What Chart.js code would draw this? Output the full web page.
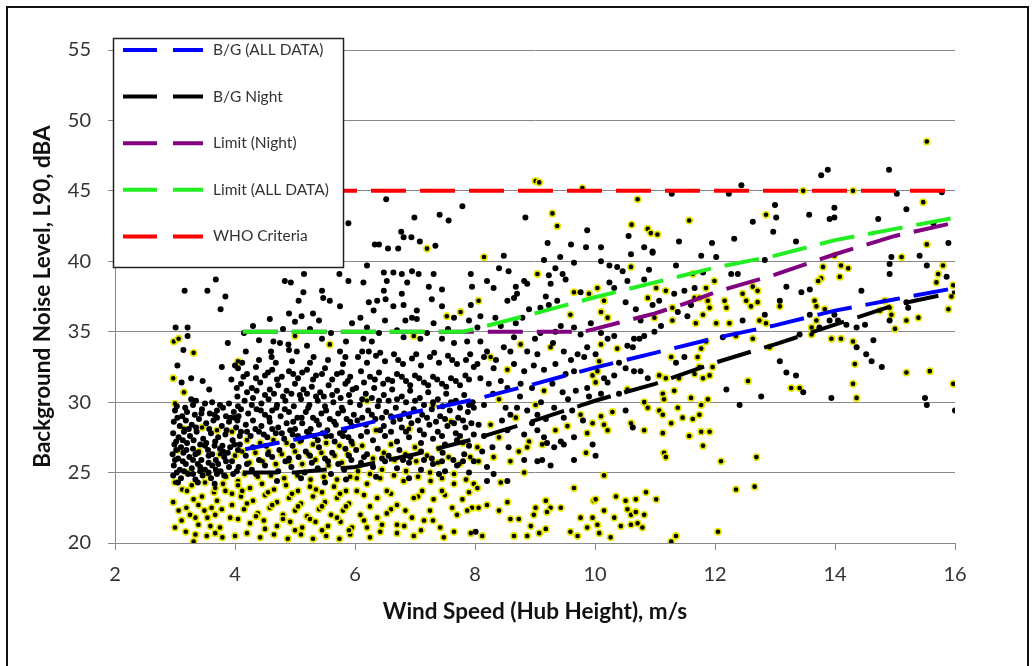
<!DOCTYPE html>
<html>
<head>
<meta charset="utf-8">
<title>Background noise vs wind speed</title>
<script src="https://cdn.jsdelivr.net/npm/chart.js@4.4.1/dist/chart.umd.min.js"></script>
<style>
body{margin:0;background:#fff}
#wrap{position:relative;width:1035px;height:666px;overflow:hidden}
#frame{position:absolute;left:6px;top:6px;width:1019px;height:700px;border:2px solid #111;pointer-events:none}
</style>
</head>
<body>
<div id="wrap">
<canvas id="chart" width="1035" height="666"></canvas>
<div id="frame"></div>
</div>
<script>

// axis ranges and ticks
const xTicks = [2, 4, 6, 8, 10, 12, 14, 16]
const yTicks = [20, 25, 30, 35, 40, 45, 50, 55]

// fitted / criteria lines, [wind speed, dBA]
const bgAll = [[4.17,26.65],[5,27.35],[6,28.3],[7,29.3],[8,30.2],[9,31.3],[10,32.45],[11,33.5],[12,34.55],[13,35.45],[14,36.5],[15,37.3],[16,38.1]]
const bgNight = [[4.13,25.0],[5,25.0],[6,25.4],[7,26.3],[8,27.4],[9,28.7],[10,30.1],[11,31.3],[12,32.8],[13,34.1],[14,35.5],[15,36.9],[16,37.8]]
const limitNight = [[4.13,35],[9.8,35],[10,35.2],[10.5,35.75],[11,36.3],[11.5,37.0],[12,37.8],[13,39.05],[14,40.5],[15,41.8],[16,42.75]]
const limitAll = [[4.13,35],[7.8,35],[8,35.2],[9,36.3],[10,37.45],[11,38.5],[12,39.55],[13,40.4],[14,41.5],[15,42.3],[16,43.1]]
const whoCriteria = [[3,45],[16,45]]

// measured points (black markers)
const ptsBlack = [
[3.68,38.7],[3.16,37.9],[3.54,37.9],[3.84,37.5],[3.76,36.6],[3.01,35.3],[3.21,35.3],[3.21,34.7],[3.14,33.7],[3.88,34.2],[3.04,32.6],[3.78,32.5],[3.27,31.7],[3.11,31.4],[3.46,31.5],[3.57,30.9],[3.27,30.2],[4.0,32.6],[3.94,31.6],[4.03,31.0],
[3.35,30.1],[3.5,29.9],[3.62,30.0],[3.75,29.8],[3.9,29.9],[4.05,29.7],[3.0,29.4],[3.12,29.0],[3.2,29.3],[3.33,29.1],[3.45,29.5],[3.58,29.2],[3.7,29.4],[3.85,29.0],[3.98,29.3],[2.98,28.6],[3.08,28.3],[3.18,28.7],[3.28,28.4],[3.4,28.8],[3.52,28.5],[3.64,28.7],[3.78,28.3],[3.9,28.6],[4.02,28.2],[2.97,27.8],[3.06,27.5],[3.15,27.9],[3.25,27.6],[3.36,27.9],[3.47,27.4],[3.6,27.8],[3.72,27.5],[3.84,27.7],[3.96,27.3],[4.08,27.6],[2.99,27.0],[3.1,26.8],[3.2,27.1],[3.3,26.7],[3.42,27.0],[3.55,26.6],[3.66,26.9],[3.8,26.5],[3.92,26.8],[4.05,26.6],[2.96,26.3],[3.05,26.0],[3.14,26.4],[3.24,26.1],[3.34,26.3],[3.44,25.9],[3.56,26.2],[3.68,25.9],[3.82,26.1],[3.95,25.8],[2.98,25.5],[3.08,25.2],[3.18,25.6],[3.28,25.3],[3.38,25.6],[3.5,25.2],[3.62,25.5],[3.76,25.1],[3.9,25.4],[4.03,25.1],[2.97,24.8],[3.1,24.6],[3.22,24.9],[3.34,24.5],[3.46,24.8],[3.6,24.6],[3.7,24.9],
[3.03,29.7],[3.17,29.6],[3.3,29.8],[3.44,29.2],[3.66,29.1],[3.8,29.6],[3.93,28.9],[3.04,28.9],[3.23,28.1],[3.35,28.2],[3.57,28.1],[3.7,28.9],[3.86,28.0],[4.0,28.9],[3.02,27.2],[3.13,27.3],[3.31,27.3],[3.52,27.1],[3.67,27.2],[3.79,26.9],[3.99,27.0],[3.02,26.6],[3.19,26.6],[3.38,26.4],[3.5,26.9],[3.62,26.3],[3.75,26.7],[3.88,26.4],[3.0,25.9],[3.13,25.8],[3.3,25.9],[3.42,25.4],[3.56,25.7],[3.72,25.6],[3.85,25.8],[3.03,25.0],[3.15,25.1],[3.3,24.9],[3.42,25.1],[3.56,25.0],[3.68,25.2],[3.82,24.8],[3.97,24.9],[3.05,24.3],[3.38,24.3],[3.66,24.2],
[5.15,39.1],[4.83,38.6],[4.93,38.5],[5.74,39.1],[5.89,38.6],[5.14,37.8],[5.06,37.2],[5.45,37.9],[5.47,37.4],[5.58,37.2],[5.75,36.8],[4.9,36.3],[5.3,36.3],[5.0,35.7],[4.58,35.9],[5.11,36.1],[5.95,35.6],[5.25,35.2],[4.64,34.3],[4.75,34.2],[4.89,34.1],[5.45,34.5],[5.31,33.2],[4.61,33.2],[4.18,33.6],[5.75,33.6],[5.84,33.2],[5.03,33.6],[4.9,33.7],
[4.05,32.4],[4.2,32.0],[4.35,32.5],[4.5,31.9],[4.62,32.3],[4.78,31.8],[4.9,32.2],[5.05,31.7],[5.2,32.3],[5.35,31.9],[5.5,32.4],[5.62,31.6],[5.78,32.1],[5.92,31.8],[4.1,31.3],[4.28,31.0],[4.42,31.4],[4.58,30.9],[4.72,31.2],[4.86,30.8],[5.0,31.3],[5.14,30.9],[5.28,31.1],[5.42,30.7],[5.56,31.2],[5.7,30.8],[5.84,31.3],[5.96,30.9],
[4.04,30.4],[4.16,30.1],[4.3,30.3],[4.44,29.9],[4.56,30.2],[4.7,29.8],[4.84,30.1],[4.98,29.7],[5.1,30.2],[5.24,29.8],[5.38,30.1],[5.5,29.7],[5.64,30.0],[5.78,29.6],[5.92,30.0],[4.1,29.5],[4.22,29.2],[4.36,29.5],[4.5,29.1],[4.62,29.4],[4.76,29.0],[4.9,29.3],[5.04,28.9],[5.18,29.3],[5.3,28.9],[5.44,29.2],[5.58,28.8],[5.72,29.2],[5.86,28.8],[5.98,29.1],[4.04,28.7],[4.18,28.4],[4.3,28.7],[4.44,28.3],[4.58,28.6],[4.72,28.2],[4.86,28.5],[5.0,28.1],[5.12,28.5],[5.26,28.1],[5.4,28.4],[5.54,28.0],[5.68,28.4],[5.82,28.0],[5.95,28.3],[4.1,27.9],[4.26,27.6],[4.4,27.9],[4.54,27.5],[4.68,27.8],[4.82,27.4],[4.96,27.7],[5.1,27.3],[5.24,27.7],[5.38,27.3],[5.52,27.6],[5.66,27.2],[5.8,27.6],[5.94,27.2],
[4.12,32.8],[4.4,33.0],[4.68,32.8],[4.95,32.9],[5.25,32.8],[5.55,33.0],[5.8,32.7],[4.14,31.8],[4.35,31.7],[4.55,32.1],[4.7,31.6],[4.97,32.0],[5.12,32.1],[5.3,31.6],[5.45,32.0],[5.7,32.0],[5.88,31.5],[4.2,30.7],[4.36,30.8],[4.5,30.5],[4.65,30.6],[4.8,30.4],[4.94,30.6],[5.08,30.5],[5.2,30.6],[5.35,30.4],[5.48,30.4],[5.62,30.5],[5.76,30.3],[5.9,30.5],[4.06,29.0],[4.28,29.8],[4.43,29.4],[4.57,28.9],[4.69,29.6],[4.83,29.5],[4.97,28.6],[5.11,28.9],[5.22,29.6],[5.36,28.7],[5.52,29.4],[5.65,28.6],[5.8,29.4],[5.92,28.6],[4.2,27.9],[4.34,28.1],[4.48,27.7],[4.62,28.1],[4.78,27.8],[4.92,28.0],[5.05,27.6],[5.2,27.9],[5.32,27.6],[5.46,27.8],[5.6,27.6],[5.75,27.8],[5.89,27.5],[4.6,33.6],[4.4,34.4],[5.2,34.0],[5.6,34.9],[5.85,34.3],[4.3,35.4],[4.8,35.2],[5.4,35.8],[4.15,34.9],
[4.08,27.0],[4.3,26.8],[4.52,26.9],[4.74,26.6],[4.96,26.9],[5.18,26.5],[5.4,26.8],[5.62,26.4],[5.84,26.7],[4.18,26.2],[4.4,25.9],[4.62,26.1],[4.84,25.8],[5.06,26.1],[5.28,25.7],[5.5,26.0],[5.72,25.6],[5.94,25.9],[4.06,25.4],[4.28,25.2],[4.5,25.5],[4.72,25.1],[4.94,25.4],[5.16,25.0],[5.38,25.3],[5.6,24.9],[5.82,25.2],
[4.2,25.6],[4.55,26.3],[4.9,26.0],[5.25,26.2],[5.55,25.8],[5.9,26.2],[6.15,26.1],[6.45,26.0],[6.8,25.9],[7.15,25.9],[7.45,25.8],[7.8,25.8],[4.35,24.9],[4.7,24.4],[5.1,24.6],[5.5,24.3],[5.85,24.5],[6.35,24.7],[6.9,24.6],[7.4,24.9],
[6.2,39.7],[6.48,39.2],[6.64,39.2],[6.78,39.1],[6.95,39.3],[7.06,39.1],[7.31,39.1],[6.14,38.5],[6.53,38.6],[6.87,38.5],[7.23,38.2],[7.45,38.0],[7.93,39.1],[7.95,38.2],[6.48,37.9],[6.78,37.7],[6.23,37.1],[6.37,37.2],[6.51,37.3],[6.64,36.8],[6.81,36.9],[7.28,37.3],[7.45,36.8],[7.93,36.9],[6.31,36.5],[7.03,36.5],[6.09,36.0],[6.5,35.8],[6.84,35.8],[7.03,35.9],[7.31,35.6],[7.65,36.0],[7.9,35.8],[6.14,34.5],[6.28,34.3],[6.81,34.6],[7.09,34.5],[7.45,34.5],[7.65,34.2],[7.87,34.3],[6.23,33.6],
[6.05,33.2],[6.2,32.8],[6.35,33.3],[6.5,32.9],[6.65,33.4],[6.8,32.7],[6.95,33.1],[7.1,32.6],[7.25,33.2],[7.4,32.8],[7.55,33.3],[7.7,32.7],[7.85,33.0],[7.98,32.5],[6.1,32.2],[6.25,31.8],[6.4,32.1],[6.55,31.6],[6.7,32.0],[6.85,31.5],[7.0,31.9],[7.15,31.4],[7.3,31.8],[7.45,31.3],[7.6,31.7],[7.75,31.2],[7.9,31.6],[6.02,31.0],[6.18,30.6],[6.32,31.0],[6.48,30.5],[6.62,30.9],[6.78,30.4],[6.92,30.8],[7.08,30.3],[7.22,30.7],[7.38,30.2],[7.52,30.6],[7.68,30.1],[7.82,30.5],[7.96,30.0],[6.08,29.8],[6.22,29.4],[6.38,29.7],[6.52,29.3],[6.68,29.6],[6.82,29.2],[6.98,29.5],[7.12,29.1],[7.28,29.5],[7.42,29.0],[7.58,29.4],[7.72,28.9],[7.88,29.3],[6.04,28.7],[6.18,28.4],[6.34,28.8],[6.48,28.3],[6.64,28.6],[6.78,28.2],[6.94,28.5],[7.08,28.0],[7.24,28.4],[7.38,27.9],[7.54,28.3],[7.68,27.8],[7.84,28.2],[7.98,27.7],[6.1,27.6],[6.3,27.3],[6.5,27.6],[6.7,27.2],[6.9,27.5],[7.1,27.1],[7.3,27.4],[7.5,27.0],[7.7,27.3],[7.9,26.9],
[6.12,33.6],[6.42,33.5],[6.72,33.0],[7.02,33.4],[7.32,33.5],[7.62,33.0],[7.92,33.4],[6.15,31.4],[6.33,31.6],[6.47,31.3],[6.62,31.5],[6.78,31.8],[6.92,31.2],[7.07,31.7],[7.22,31.2],[7.37,31.6],[7.52,31.1],[7.68,31.5],[7.84,31.9],[6.12,30.2],[6.28,30.3],[6.4,30.1],[6.56,30.1],[6.7,30.2],[6.85,30.0],[7.0,30.1],[7.15,29.8],[7.3,30.0],[7.46,29.7],[7.6,30.0],[7.75,29.6],[7.9,29.8],[6.12,28.9],[6.28,29.1],[6.45,28.9],[6.6,29.0],[6.75,28.8],[6.9,29.0],[7.05,28.7],[7.2,28.9],[7.35,28.6],[7.5,28.8],[7.65,28.5],[7.8,28.7],[7.94,28.5],[6.2,27.9],[6.42,28.0],[6.6,27.9],[6.85,27.9],[7.15,27.7],[7.45,27.6],[7.75,27.6],[6.4,34.9],[6.7,35.1],[7.2,34.9],[7.55,35.2],[6.95,36.0],[6.2,35.3],
[6.02,26.6],[6.2,26.3],[6.38,26.7],[6.56,26.2],[6.74,26.6],[6.92,26.1],[7.1,26.5],[7.28,26.0],[7.46,26.4],[7.64,25.9],[7.82,26.3],[7.98,25.8],[6.1,25.7],[6.3,25.4],[6.5,25.8],[6.7,25.3],[6.9,25.7],[7.1,25.2],[7.3,25.6],[7.5,25.1],[7.7,25.5],[7.9,25.0],
[5.89,42.7],[6.52,44.4],[6.99,43.1],[7.41,43.3],[6.77,42.1],[6.81,41.7],[6.94,41.7],[7.08,41.4],[6.33,41.2],[6.4,41.2],[6.55,40.9],[6.72,40.9],[7.34,41.1],
[7.79,43.9],[7.56,42.9],[8.84,43.1],[9.87,42.2],[11.4,41.4],[9.21,41.3],[9.6,41.2],[9.85,41.0],[10.1,41.0],[10.82,41.0],[10.96,40.7],[11.28,44.8],[10.56,41.8],
[8.48,40.4],[9.15,40.1],[9.42,40.3],[9.65,39.9],[8.4,39.5],[8.56,39.3],[9.34,39.5],[9.23,39.0],[9.46,39.1],[9.51,38.7],[8.2,38.6],[8.31,38.1],[8.68,38.2],[8.82,38.6],[8.87,38.4],[9.26,38.4],[9.76,37.8],[8.54,37.2],[8.65,37.4],[8.7,37.7],[9.18,37.5],[9.23,36.9],[9.37,37.2],[9.09,36.7],[8.9,36.6],[8.09,36.1],[8.34,36.0],[8.79,36.0],[9.93,35.6],[8.04,35.3],[8.43,35.4],[8.68,35.6],[9.09,34.9],[9.34,35.0],[9.43,35.4],[9.65,35.3],[9.76,34.8],[8.09,34.3],[8.2,33.6],[8.48,33.9],[8.59,33.6],[8.87,33.6],[9.04,33.4],[9.48,33.6],[9.71,33.4],[9.87,33.9],[9.82,33.2],[8.04,32.7],[8.31,32.4],[8.65,32.7],[8.82,32.2],[8.98,32.6],[9.34,32.7],[9.51,32.0],[9.65,32.2],[8.09,31.7],[8.23,31.3],[8.43,31.5],[8.54,31.0],[8.76,31.3],[8.95,31.0],[9.29,31.3],[9.46,30.7],[9.68,30.8],[9.87,31.0],[7.98,29.6],[8.15,29.8],[8.51,29.6],[8.59,29.1],[8.7,29.6],[8.87,29.4],[9.04,29.1],[9.18,28.8],[9.32,29.6],[9.48,28.9],[9.62,29.4],[8.06,28.4],[8.15,27.6],[8.54,28.0],[8.82,27.7],[9.04,28.0],[9.15,27.5],[9.43,27.2],[9.65,27.5],[8.12,26.5],[8.29,26.8],[8.56,26.8],[9.2,27.1],[9.32,26.8],[9.48,27.0],[9.65,25.9],[9.96,27.0],[8.2,25.4],[8.82,25.9],[9.04,25.8],[9.12,25.9],[9.26,25.5],[8.31,24.9],[8.2,24.4],[8.54,24.4],[8.01,20.8],
[8.3,30.6],[8.75,30.4],[9.1,30.0],[9.55,30.2],[9.9,30.4],[8.45,28.7],[8.95,28.5],[9.8,28.7],[8.35,33.0],[9.15,32.3],[9.6,33.0],[8.15,33.2],[8.65,34.6],[9.0,34.5],[9.3,34.2],
[10.6,40.5],[10.96,40.6],[10.1,40.0],[10.24,39.7],[10.37,39.6],[10.46,39.3],[10.9,39.4],[11.35,39.7],[10.24,38.5],[10.32,38.1],[10.54,38.6],[10.82,38.7],[11.32,37.7],[11.49,37.9],[11.66,38.1],[10.51,37.1],[10.96,36.9],[11.07,37.2],[11.38,36.4],[11.6,36.9],[10.68,36.6],[10.76,35.8],[11.1,35.4],[11.54,36.1],[10.1,34.9],[10.21,34.5],[10.32,34.7],[10.54,34.0],[10.65,34.5],[10.74,34.5],[10.82,34.7],[10.63,33.9],[10.99,35.0],[10.01,33.4],[10.4,32.8],[10.51,32.4],[11.35,32.8],[11.49,33.2],[10.15,31.7],[10.21,31.4],[10.32,31.9],[10.65,32.2],[10.76,32.2],[10.88,31.7],[10.1,30.6],[10.4,30.6],[10.51,29.4],[10.63,28.2],[10.01,26.2],
[13.88,46.5],[13.77,46.1],[14.9,46.5],[12.44,45.4],[12.23,44.8],[15.03,44.8],[15.78,44.9],[13.0,44.0],[13.02,43.1],[12.63,42.8],[13.57,43.3],[13.91,43.0],[13.99,43.1],[13.99,43.8],[15.19,43.7],[14.72,43.0],[12.97,42.1],[12.32,41.6],[11.95,41.3],[13.35,41.4],[15.64,42.7],[15.89,41.3],[11.77,40.4],[12.02,40.3],[12.83,40.1],[14.94,40.3],[15.41,40.4],[15.53,39.7],[14.91,39.8],[11.8,39.2],[12.27,39.1],[12.38,39.1],[14.91,39.1],[15.86,38.9],[12.83,36.2],[12.46,35.8],[13.08,37.2],[13.19,38.2],[13.44,37.8],[13.58,38.0],[13.58,36.2],[13.74,35.3],[13.91,35.8],[13.99,36.2],[14.05,35.8],[14.44,37.9],[14.91,35.8],[15.19,37.1],[15.22,36.7],[14.19,35.5],[14.5,35.5],[14.36,35.3],[13.41,34.8],[14.36,33.9],[14.52,33.4],[14.61,32.9],[14.78,32.5],[14.64,34.4],[12.13,34.6],[12.19,30.9],[12.77,30.4],[13.08,32.9],[13.19,32.1],[13.35,31.9],[13.47,30.7],[12.41,29.8],[13.94,30.3],[15.5,30.3],[15.53,29.8],[16.0,29.4]
]

// measured points (yellow markers)
const ptsYellow = [
[2.98,34.3],[3.06,34.5],[3.31,33.5],[2.97,31.7],[3.15,30.7],
[3.0,29.9],[3.15,28.1],[3.45,28.2],[3.7,28.0],[3.95,27.9],[3.05,26.6],[3.4,26.5],[3.75,26.3],[4.0,26.2],[3.2,25.0],[3.55,24.9],[3.85,24.7],[3.0,24.3],[3.28,24.1],[3.5,24.3],[3.8,24.2],[4.05,24.4],[3.12,23.8],[3.65,23.6],[3.95,23.5],
[3.31,23.1],[3.19,22.5],[3.06,22.3],[3.39,22.7],[3.49,22.3],[3.61,22.5],[3.7,23.0],[3.78,22.4],[3.11,21.6],[3.34,21.8],[3.54,21.8],[3.67,22.0],[3.0,21.1],[3.18,20.8],[3.39,21.3],[3.59,21.2],[3.75,21.1],[3.34,20.6],[3.53,20.5],[3.67,20.7],[3.79,20.4],[3.31,20.1],[4.0,20.5],[3.92,21.8],[3.95,22.7],[3.2,23.7],[3.84,23.7],[3.67,23.9],[3.45,23.3],[2.97,22.9],[3.25,22.0],
[5.0,34.7],[5.58,34.1],[4.05,32.9],
[4.2,27.3],[4.42,27.1],[4.64,27.3],[4.86,27.1],[5.08,27.2],[5.3,27.0],[5.52,27.1],[5.74,26.9],[5.96,27.0],[4.12,26.5],[4.34,26.4],[4.56,26.5],[4.78,26.3],[5.0,26.5],[5.22,26.3],[5.44,26.4],[5.66,26.2],[5.88,26.3],[4.24,25.7],[4.46,25.8],[4.68,25.6],[4.9,25.8],[5.12,25.6],[5.34,25.9],[5.56,25.5],[5.78,25.7],[4.16,24.9],[4.38,24.7],[4.6,24.8],[4.82,24.6],[5.04,24.8],[5.26,24.5],[5.48,24.7],[5.7,24.5],[5.92,24.7],
[4.05,24.1],[4.25,23.9],[4.45,24.2],[4.65,23.8],[4.85,24.1],[5.05,23.7],[5.25,24.0],[5.45,23.6],[5.65,24.0],[5.85,23.7],[4.1,23.3],[4.3,23.0],[4.5,23.4],[4.7,22.9],[4.9,23.2],[5.1,22.8],[5.3,23.3],[5.5,22.9],[5.7,23.2],[5.9,22.8],[4.15,22.4],[4.38,22.1],[4.58,22.5],[4.8,22.0],[5.0,22.3],[5.2,21.9],[5.4,22.4],[5.6,22.0],[5.8,22.3],[4.05,21.7],[4.25,21.4],[4.48,21.6],[4.7,21.2],[4.92,21.5],[5.12,21.1],[5.34,21.5],[5.55,21.2],[5.76,21.5],[5.95,21.1],[4.2,20.7],[4.42,20.4],[4.65,20.6],[4.88,20.3],[5.1,20.6],[5.3,20.3],[5.52,20.5],[5.74,20.3],[5.92,20.6],
[4.12,23.7],[4.55,23.6],[4.95,23.5],[5.35,23.8],[5.75,23.5],[6.15,23.4],[6.6,23.5],[7.05,23.3],[7.5,23.4],[7.9,23.6],[4.2,22.8],[4.62,22.7],[5.05,22.6],[5.45,22.6],[5.85,22.6],[6.25,22.6],[6.6,22.4],[7.25,22.3],[7.7,22.0],[4.35,21.9],[4.8,21.7],[5.25,21.7],[5.7,21.8],[6.15,21.6],[6.82,21.2],[7.3,21.6],[4.5,21.0],[5.0,20.9],[5.45,20.9],[5.9,20.9],[6.45,21.3],[7.1,20.9],
[7.53,36.1],[7.76,36.4],[6.98,34.7],
[6.12,26.9],[6.3,26.0],[6.48,26.4],[6.66,25.9],[6.84,26.3],[7.02,25.8],[7.2,26.2],[7.38,25.7],[7.56,26.1],[7.74,25.6],[7.92,26.1],[6.05,25.1],[6.25,24.9],[6.45,25.2],[6.65,24.8],[6.85,25.1],[7.05,24.7],[7.25,25.0],[7.45,24.6],[7.65,24.9],[7.85,24.5],[6.6,27.0],[7.0,26.8],[7.4,26.7],[7.8,27.1],[6.35,28.0],[6.9,28.1],[7.6,28.6],[6.2,30.1],[7.3,29.8],
[6.03,23.7],[6.2,24.2],[6.37,23.2],[6.53,23.7],[6.7,22.7],[6.84,22.3],[6.98,23.2],[7.12,23.7],[7.31,23.1],[7.45,23.7],[7.62,22.5],[7.79,23.1],[7.95,22.5],[6.09,22.0],[6.37,21.8],[6.53,22.1],[6.7,21.3],[6.95,21.8],[7.15,21.6],[7.42,21.1],[7.65,20.8],[7.87,22.3],[7.93,20.7],[6.2,21.1],[6.42,20.8],[6.7,20.7],[6.98,20.5],[6.25,20.4],[7.48,20.4],[7.65,24.2],[7.26,24.4],[6.81,24.4],[6.42,24.6],[6.03,24.6],[7.98,24.2],
[7.2,40.9],
[9.01,45.7],[9.07,45.6],[9.79,45.2],[10.71,44.4],[9.29,43.4],[9.37,42.5],[10.88,42.3],[10.93,42.0],[11.04,41.9],[11.57,42.9],[10.61,42.6],
[8.15,40.3],[9.04,39.1],[9.65,37.8],[9.9,37.7],[8.06,37.2],[9.59,36.2],[8.26,33.2],[8.76,34.1],[9.26,33.9],[8.54,32.3],[9.96,31.9],[9.15,30.8],[8.4,30.2],[8.68,28.9],[9.01,29.8],[9.76,29.1],[9.96,28.5],[8.26,28.4],[8.4,27.5],[8.9,27.2],[9.34,28.0],[9.54,28.3],[9.87,27.8],[8.04,26.8],[8.73,26.5],[8.87,26.8],[9.12,27.0],[9.85,26.4],[8.06,25.8],[8.31,26.1],[8.59,25.8],[8.43,24.3],[8.82,25.0],[9.65,23.9],[8.04,23.9],[8.2,22.7],[8.06,22.5],[8.4,22.3],[8.54,22.9],[9.01,22.5],[9.18,23.0],[9.26,22.5],[9.2,22.2],[9.43,22.5],[8.98,22.0],[8.59,21.7],[8.73,21.7],[8.93,21.2],[9.18,21.0],[9.07,20.7],[8.87,20.5],[8.65,20.5],[9.59,20.8],[9.71,20.5],[9.76,21.8],[9.87,21.1],[9.96,21.8],[9.98,23.0],[8.12,20.5],
[10.6,39.6],[11.63,39.1],[10.04,38.1],[11.02,38.1],[11.18,37.9],[10.15,37.2],[10.88,37.4],[11.29,36.7],[11.66,37.4],[10.1,36.4],[10.21,36.0],[10.99,36.0],[11.29,35.8],[11.68,35.6],[10.37,33.8],[10.1,34.1],[10.07,32.9],[11.27,33.2],[11.71,33.2],[10.04,32.2],[10.01,31.4],[11.07,31.9],[11.18,31.7],[11.4,31.7],[11.66,32.0],[10.54,30.9],[11.13,30.6],[11.15,30.2],[11.32,30.8],[11.6,30.3],[10.82,30.0],[10.88,29.6],[10.1,29.0],[10.29,29.3],[10.6,28.5],[11.07,29.4],[11.13,29.1],[11.38,29.6],[11.46,28.9],[11.63,28.8],[10.15,28.4],[10.21,28.0],[10.82,28.0],[11.13,27.8],[11.27,28.5],[11.57,27.6],[11.15,26.4],[11.18,26.1],[10.15,24.8],[10.01,23.1],[10.35,23.3],[10.51,23.0],[10.68,23.1],[10.85,23.6],[11.02,23.1],[10.54,22.4],[10.6,22.0],[10.68,22.2],[10.82,22.0],[10.15,22.3],[10.32,21.8],[10.04,21.3],[10.43,21.2],[10.6,21.3],[10.71,21.4],[10.79,21.1],[10.07,20.7],[10.26,20.4],[11.35,20.5],[11.27,20.1],
[15.53,48.5],[13.47,45.0],[14.3,45.0],[12.85,43.3],[15.47,44.2],[13.99,40.4],[15.53,41.2],[15.11,40.3],[15.8,39.7],[11.99,38.6],[12.46,37.7],[12.63,38.2],[12.71,37.9],[13.8,39.6],[14.1,39.7],[14.22,39.5],[14.08,38.9],[13.77,38.8],[13.72,38.6],[15.72,39.1],[15.69,38.5],[15.97,38.3],[15.94,37.5],[15.89,36.6],[11.74,37.4],[11.85,38.1],[11.88,37.2],[12.16,37.2],[12.19,36.7],[12.52,37.2],[12.6,36.8],[12.71,37.1],[12.74,35.8],[12.85,35.6],[12.24,35.6],[12.02,35.6],[11.91,36.7],[13.08,36.8],[13.66,37.2],[13.69,36.8],[13.69,35.8],[13.61,35.3],[13.83,36.6],[14.75,36.5],[14.83,37.2],[14.91,36.7],[14.94,36.2],[15.0,35.2],[15.19,35.8],[15.39,36.0],[11.8,36.2],[13.61,34.8],[13.94,34.5],[14.1,34.5],[14.3,34.3],[14.33,32.7],[12.63,34.5],[12.91,33.9],[12.35,34.7],[11.85,34.3],[11.77,33.8],[11.74,32.5],[11.91,31.9],[11.8,31.7],[11.96,32.5],[11.77,29.8],[11.88,30.2],[12.55,31.5],[13.27,31.0],[13.41,31.0],[14.3,31.3],[14.36,30.3],[15.19,32.1],[15.58,32.2],[15.97,31.3],[11.74,29.1],[11.91,27.9],[11.77,27.9],[11.8,26.9],[12.1,25.8],[12.69,26.1],[12.35,23.8],[12.66,24.0],[12.05,20.8]
]

const legendOrder = ["B/G (ALL DATA)", "B/G Night", "Limit (Night)", "Limit (ALL DATA)", "WHO Criteria"]

function toXY(arr){
return arr.map(p => ({x:p[0], y:p[1]}))
}

function dashLine(label, pts, color){
return {
label:label,
data:toXY(pts),
showLine:true,
borderColor:color,
backgroundColor:color,
borderWidth:4,
borderDash:[35,14],
pointRadius:0,
tension:0
}
}

// legend drawn as a white boxed panel over the plot
const boxLegend = {
id:"boxLegend",
afterDraw(chart){
let ctx = chart.ctx
let left = chart.chartArea.left - 2
let top = chart.chartArea.top - 12
ctx.save()
ctx.fillStyle = "#fff"
ctx.fillRect(left, top, 231, 230)
ctx.strokeStyle = "#222"
ctx.lineWidth = 1.5
ctx.strokeRect(left + 0.5, top + 0.5, 230, 229)
legendOrder.forEach((name, i) => {
let ds = chart.data.datasets.find(d => d.label === name)
let y = top + 12 + i * 46.6
ctx.strokeStyle = ds.borderColor
ctx.lineWidth = 4
ctx.setLineDash([34,16])
ctx.beginPath()
ctx.moveTo(left + 10, y)
ctx.lineTo(left + 90, y)
ctx.stroke()
ctx.setLineDash([])
ctx.fillStyle = "#333"
ctx.font = "15.5px Lato"
ctx.textBaseline = "middle"
ctx.fillText(name, left + 100, y)
})
ctx.restore()
}
}

let ctx = document.getElementById("chart").getContext("2d")

new Chart(ctx, {
type:"scatter",
data:{
datasets:[
dashLine("WHO Criteria", whoCriteria, "#ff0000"),
dashLine("Limit (ALL DATA)", limitAll, "#22ee22"),
dashLine("Limit (Night)", limitNight, "#800080"),
dashLine("B/G (ALL DATA)", bgAll, "#0000ff"),
dashLine("B/G Night", bgNight, "#000000"),
{
label:"black",
data:toXY(ptsBlack),
pointRadius:3,
borderWidth:0,
backgroundColor:"#000"
},
{
label:"yellow",
data:toXY(ptsYellow),
pointRadius:3.1,
borderWidth:1.6,
borderColor:"#e6e600",
backgroundColor:"#000"
}
]
},
options:{
responsive:false,
animation:false,
events:[],
layout:{padding:{top:50, right:80, bottom:0, left:0}},
plugins:{
legend:{display:false},
tooltip:{enabled:false}
},
scales:{
x:{
type:"linear",
min:xTicks[0],
max:xTicks[xTicks.length - 1],
afterBuildTicks(scale){ scale.ticks = xTicks.map(v => ({value:v})) },
afterFit(scale){ scale.height = 123 },
ticks:{font:{family:"Lato", size:20}, color:"#333", padding:13},
grid:{drawOnChartArea:false, drawTicks:true, tickLength:7, color:"#888"},
border:{color:"#888"},
title:{display:true, text:"Wind Speed (Hub Height), m/s", font:{family:"Lato", size:22.5, weight:"bold"}, color:"#111", padding:{top:0, bottom:41}}
},
y:{
min:yTicks[0],
max:yTicks[yTicks.length - 1],
afterBuildTicks(scale){ scale.ticks = yTicks.map(v => ({value:v})) },
afterFit(scale){ scale.width = 115 },
ticks:{font:{family:"Lato", size:20}, color:"#333", padding:17},
grid:{drawTicks:true, tickLength:7, color:"#888"},
border:{color:"#888"},
title:{display:true, text:"Background Noise Level, L90, dBA", font:{family:"Lato", size:22.5, weight:"bold"}, color:"#111", padding:{top:29, bottom:0}}
}
}
},
plugins:[boxLegend]
})

</script>
</body>
</html>
